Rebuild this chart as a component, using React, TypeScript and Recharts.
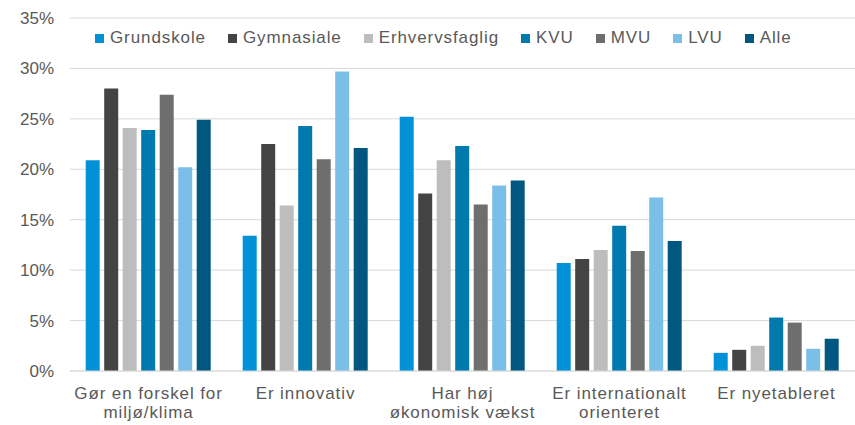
import React from "react";
import { BarChart, Bar, XAxis, YAxis, CartesianGrid, Legend } from "recharts";

const categories = [
  "Gør en forskel for\nmiljø/klima",
  "Er innovativ",
  "Har høj\nøkonomisk vækst",
  "Er internationalt\norienteret",
  "Er nyetableret",
];

const seriesNames = ["Grundskole", "Gymnasiale", "Erhvervsfaglig", "KVU", "MVU", "LVU", "Alle"];
const seriesColors = ["#0091D7", "#444444", "#BDBDBD", "#0079AE", "#6E6E6E", "#7BBFE8", "#005880"];

const grundskole = [20.9, 13.4, 25.2, 10.7, 1.8];
const gymnasiale = [28.0, 22.5, 17.6, 11.1, 2.1];
const erhvervsfaglig = [24.1, 16.4, 20.9, 12.0, 2.5];
const kvu = [23.9, 24.3, 22.3, 14.4, 5.3];
const mvu = [27.4, 21.0, 16.5, 11.9, 4.8];
const lvu = [20.2, 29.7, 18.4, 17.2, 2.2];
const alle = [24.9, 22.1, 18.9, 12.9, 3.2];

const yTicks = [0, 5, 10, 15, 20, 25, 30, 35];

const seriesValues = [grundskole, gymnasiale, erhvervsfaglig, kvu, mvu, lvu, alle];

const data = categories.map((name, i) => {
  const row: Record<string, any> = { name };
  seriesNames.forEach((s, j) => {
    row[s] = seriesValues[j][i];
  });
  return row;
});

const FONT = "'Liberation Sans', Arial, sans-serif";
const TEXT = "#595959";

const XTick = (props: any) => {
  const { x, y, payload } = props;
  const lines = String(payload.value).split("\n");
  return (
    <text x={x} y={y} textAnchor="middle" fill={TEXT} fontSize={17} fontFamily={FONT} style={{ letterSpacing: "0.9px" }}>
      {lines.map((l: string, i: number) => (
        <tspan key={i} x={x} y={y + 20 + i * 19}>
          {l}
        </tspan>
      ))}
    </text>
  );
};

const LegendContent = () => (
  <div style={{ display: "flex", alignItems: "center", fontFamily: FONT, fontSize: 17, color: TEXT, letterSpacing: "0.9px", whiteSpace: "nowrap" }}>
    {seriesNames.map((s, i) => (
      <div key={s} style={{ display: "flex", alignItems: "center", marginRight: 22 }}>
        <span style={{ display: "inline-block", width: 9, height: 9, background: seriesColors[i], marginRight: 6 }} />
        <span>{s}</span>
      </div>
    ))}
  </div>
);

export default function App() {
  return (
    <div style={{ position: "absolute", left: 0, top: 0, background: "#fff" }}>
      <BarChart
        width={855}
        height={425}
        data={data}
        margin={{ top: 18, right: 0, left: 0, bottom: 0 }}
        barCategoryGap="10%"
        barGap={4.5}
      >
        <CartesianGrid vertical={false} stroke="#D9D9D9" strokeWidth={1} />
        <XAxis
          dataKey="name"
          axisLine={{ stroke: "#D9D9D9" }}
          tickLine={false}
          height={54}
          interval={0}
          tick={<XTick />}
        />
        <YAxis
          width={70}
          domain={[0, 35]}
          ticks={yTicks}
          interval={0}
          tickFormatter={(v: number) => `${v}%`}
          axisLine={false}
          tickLine={false}
          tickMargin={10}
          tick={{ fill: TEXT, fontSize: 17, fontFamily: FONT }}
        />
        <Legend
          layout="horizontal"
          verticalAlign="middle"
          align="center"
          content={<LegendContent />}
          wrapperStyle={{ top: 28, left: 95, width: "auto", height: "auto" }}
        />
        {seriesNames.map((s, i) => (
          <Bar key={s} dataKey={s} fill={seriesColors[i]} isAnimationActive={false} />
        ))}
      </BarChart>
    </div>
  );
}
